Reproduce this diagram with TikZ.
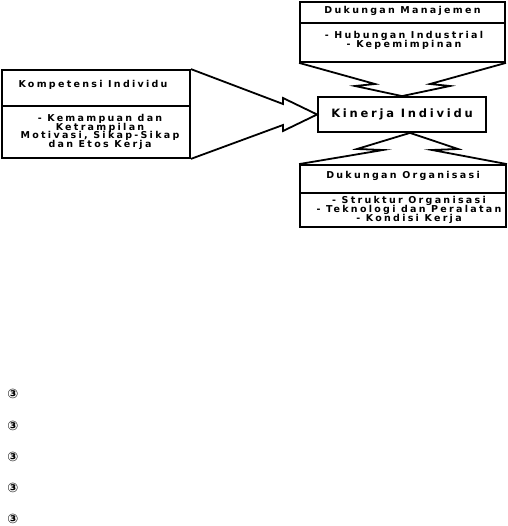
\documentclass[tikz,border=0pt]{standalone}
\usepackage{fontspec}
\setmainfont{DejaVu Sans}
\newfontfamily\lblfont[LetterSpace=24]{DejaVu Sans Bold}
\newfontfamily\bigfont[LetterSpace=24]{DejaVu Sans Bold}
\newfontfamily\symfont{DejaVu Sans Bold}
\newcommand\tightls{\setlength{\lineskiplimit}{-20pt}}
\usetikzlibrary{calc}
\begin{document}
\begin{tikzpicture}[x=1pt,y=-1pt,
  box/.style={draw=black,line width=1.8pt,rectangle,inner sep=0pt},
  blk/.style={draw=black,line width=1.8pt,line join=miter},
  lbl/.style={font={\lblfont\fontsize{9.5}{8.8}\selectfont\tightls},align=center,inner sep=0pt},
  bul/.style={font=\symfont\fontsize{13}{13}\selectfont,inner sep=0pt}]
\useasboundingbox (0,0) rectangle (507,526);
\fill[white] (0,0) rectangle (507,526);
% boxes
\node[box,minimum width=205pt,minimum height=60pt] (tb) at (402.5,32) {};
\node[box,minimum width=188pt,minimum height=88pt] (lb) at (96,114) {};
\node[box,minimum width=168pt,minimum height=35pt] (kb) at (402,114.5) {};
\node[box,minimum width=206pt,minimum height=62pt] (bb) at (403,196) {};
% dividers
\draw[blk] (tb.west |- 0,23) coordinate (tdl) -- (tb.east |- 0,23) coordinate (tdr);
\draw[blk] (lb.west |- 0,106) coordinate (ldl) -- (lb.east |- 0,106) coordinate (ldr);
\draw[blk] (bb.west |- 0,193) coordinate (bdl) -- (bb.east |- 0,193) coordinate (bdr);
% block arrows
\draw[blk] (lb.north east) -- (283,104) -- (283,98) -- (kb.west) -- (283,131) -- (283,125) -- (lb.south east);
\draw[blk] (tb.south west) -- (375,84) -- (355,86) -- (kb.north) -- (450,86) -- (430,84) -- (tb.south east);
\draw[blk] (bb.north west) -- (383,150) -- (357,149) -- ($(kb.south)+(8,0)$) -- (458,149) -- (432,150) -- (bb.north east);
% texts
\node[lbl] (t1) at (402.5,11) {Dukungan Manajemen};
\node[lbl] (t2) at (404,40) {- Hubungan Industrial\\- Kepemimpinan};
\node[lbl] (l1) at (93,85) {Kompetensi Individu};
\node[lbl] (l2) at (100,132) {- Kemampuan dan\\Ketrampilan\\Motivasi, Sikap-Sikap\\dan Etos Kerja};
\node[font=\bigfont\fontsize{11.5}{12}\selectfont,inner sep=0pt] (k1) at (402,114.5) {Kinerja Individu};
\node[lbl] (b1) at (403,176) {Dukungan Organisasi};
\node[lbl] (b2) at (409,210) {- Struktur Organisasi\\- Teknologi dan Peralatan\\- Kondisi Kerja};
% bullets
\node[bul] (s1) at (13,394) {③};
\node[bul] (s2) at (13,426) {③};
\node[bul] (s3) at (13,457) {③};
\node[bul] (s4) at (13,488) {③};
\node[bul] (s5) at (13,519) {③};
\end{tikzpicture}
\end{document}
